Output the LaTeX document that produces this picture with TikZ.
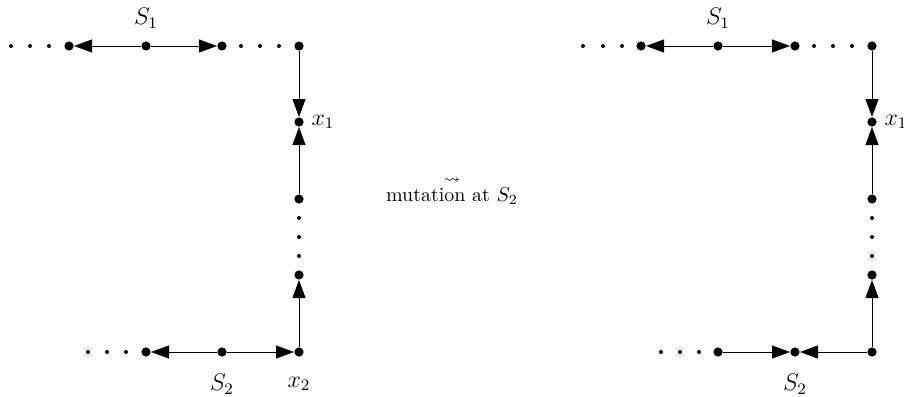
\documentclass[tikz,border=0pt]{standalone}
\usepackage{amsmath,amssymb}
\usetikzlibrary{arrows.meta}
\tikzset{
  bigdot/.style={circle,fill=black,inner sep=0pt,minimum size=4.6pt},
  smalldot/.style={circle,fill=black,inner sep=0pt,minimum size=2pt},
  arr/.style={line width=0.45pt,-{Triangle[length=9pt,width=6.5pt]}},
  lbl/.style={font=\large},
}
\begin{document}
\begin{tikzpicture}[x=0.5pt,y=-0.5pt]
\useasboundingbox (0,0) rectangle (904,396);
% ---------- left quiver ----------
\foreach \i/\x in {1/11,2/30,3/49,4/241,5/260,6/279}{\node[smalldot] (lt\i) at (\x,46) {};}
\node[bigdot] (la) at (69,46) {};
\node[bigdot] (lb) at (146,46) {};
\node[bigdot] (lc) at (222,46) {};
\node[bigdot] (ld) at (299,46) {};
\node[bigdot] (lx1) at (299,122) {};
\node[bigdot] (le) at (299,199) {};
\foreach \i/\y in {1/218,2/237,3/256}{\node[smalldot] (lv\i) at (299,\y) {};}
\node[bigdot] (lf) at (299,275) {};
\node[bigdot] (lx2) at (299,352) {};
\node[bigdot] (lg) at (222,352) {};
\node[bigdot] (lh) at (146,352) {};
\foreach \i/\x in {1/88,2/107,3/126}{\node[smalldot] (lbd\i) at (\x,352) {};}
\draw[arr] (lb) -- (la);
\draw[arr] (lb) -- (lc);
\draw[arr] (ld) -- (lx1);
\draw[arr] (le) -- (lx1);
\draw[arr] (lx2) -- (lf);
\draw[arr] (lg) -- (lh);
\draw[arr] (lg) -- (lx2);
\node[lbl] (lS1) at (146,18) {$S_1$};
\node[lbl] (lx1l) at (323,122) {$x_1$};
\node[lbl] (lS2) at (222,384) {$S_2$};
\node[lbl] (lx2l) at (299,384) {$x_2$};
% ---------- middle ----------
\node (mid) at (452,190) {$\overset{\rightsquigarrow}{\text{mutation at }S_2}$};
% ---------- right quiver ----------
\foreach \i/\x in {1/583,2/603,3/622,4/814,5/833,6/852}{\node[smalldot] (rt\i) at (\x,46) {};}
\node[bigdot] (ra) at (641,46) {};
\node[bigdot] (rb) at (718,46) {};
\node[bigdot] (rc) at (795,46) {};
\node[bigdot] (rd) at (872,46) {};
\node[bigdot] (rx1) at (872,122) {};
\node[bigdot] (re) at (872,199) {};
\foreach \i/\y in {1/218,2/237,3/256}{\node[smalldot] (rv\i) at (872,\y) {};}
\node[bigdot] (rf) at (872,275) {};
\node[bigdot] (rx2) at (872,352) {};
\node[bigdot] (rg) at (795,352) {};
\node[bigdot] (rh) at (718,352) {};
\foreach \i/\x in {1/661,2/680,3/699}{\node[smalldot] (rbd\i) at (\x,352) {};}
\draw[arr] (rb) -- (ra);
\draw[arr] (rb) -- (rc);
\draw[arr] (rd) -- (rx1);
\draw[arr] (re) -- (rx1);
\draw[arr] (rx2) -- (rf);
\draw[arr] (rh) -- (rg);
\draw[arr] (rx2) -- (rg);
\node[lbl] (rS1) at (718,18) {$S_1$};
\node[lbl] (rx1l) at (896,122) {$x_1$};
\node[lbl] (rS2) at (795,384) {$S_2$};
\end{tikzpicture}
\end{document}
